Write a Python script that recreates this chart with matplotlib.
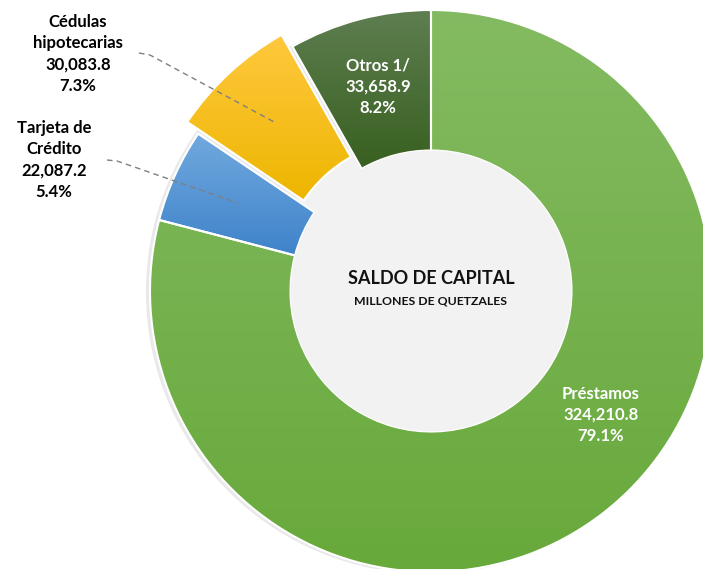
import matplotlib.pyplot as plt
import numpy as np
from matplotlib.colors import to_rgb

plt.rcParams['font.family'] = ['Lato', 'DejaVu Sans']

# data
categories = ['Préstamos', 'Tarjeta de\nCrédito', 'Cédulas\nhipotecarias', 'Otros 1/']
values = [324210.8, 22087.2, 30083.8, 33658.9]
shares = [79.1, 5.4, 7.3, 8.2]
explode = [0, 0, 0.057, 0]
# gradient colours, top -> bottom
grad_top = ['#84bb62', '#71a9de', '#ffc83e', '#5e7e50']
grad_bottom = ['#68a93b', '#3f83ca', '#edb600', '#386020']
text_colors = ['white', 'black', 'black', 'white']

W, H = 703, 569
cx, cy, R = 431, 291, 281

fig = plt.figure(figsize=(W / 100, H / 100), dpi=100)
ax = fig.add_axes([0, 0, 1, 1])
ax.set_aspect('equal')
ax.axis('off')

# soft shadow behind the ring, centre disc below the wedges
ax.add_patch(plt.Circle((-0.012, -0.004), 1.0, color='#e9e9e9', zorder=0))
ax.add_patch(plt.Circle((0, 0), 0.58, color='#f2f2f2', zorder=1))

wedges, _ = ax.pie(values, startangle=90, counterclock=False, explode=explode,
                   radius=1.0, wedgeprops=dict(width=0.5, edgecolor='white', linewidth=1.5),
                   frame=False)

# vertical gradient fill for every wedge
for w, top, bot in zip(wedges, grad_top, grad_bottom):
    w.set_facecolor('none')
    w.set_zorder(3)
    bb = w.get_path().get_extents(w.get_transform() + ax.transData.inverted())
    t = np.linspace(0, 1, 256)[:, None]
    img = (1 - t) * np.array(to_rgb(top)) + t * np.array(to_rgb(bot))
    im = ax.imshow(img[:, None, :].repeat(2, axis=1), extent=[bb.x0, bb.x1, bb.y0, bb.y1],
                   origin='upper', aspect='auto', zorder=2, interpolation='bilinear')
    im.set_clip_path(w)

ax.add_patch(plt.Circle((0, 0), 0.497, color='#f2f2f2', zorder=4))
ax.set_xlim(-cx / R, (W - cx) / R)
ax.set_ylim(-(H - cy) / R, cy / R)

ax.text(0, (cy - 278) / R, 'SALDO DE CAPITAL', ha='center', va='center',
        fontsize=13, fontweight='bold', color='#111111', zorder=5)
ax.text(0, (cy - 301) / R, 'MILLONES DE QUETZALES', ha='center', va='center',
        fontsize=8.8, fontweight='bold', color='#111111', zorder=5)


def px(x, y):
    return (x - cx) / R, (cy - y) / R


label_pos = [px(601, 415), px(54, 160), px(78, 54), px(378, 87)]
for cat, v, s, pos, col in zip(categories, values, shares, label_pos, text_colors):
    ax.text(pos[0], pos[1], f'{cat}\n{v:,.1f}\n{s:.1f}%', ha='center', va='center',
            fontsize=12, fontweight='bold', color=col, linespacing=1.4, zorder=6)

# leader lines for the outside labels
for pts in ([(139, 53), (150, 55), (276, 123)], [(107, 160), (117, 161), (238, 203)]):
    xs, ys = zip(*[px(*p) for p in pts])
    ax.plot(xs, ys, ls=(0, (4, 3)), color='#7f7f7f', lw=1, zorder=6)

fig.savefig('out.png', dpi=100)
